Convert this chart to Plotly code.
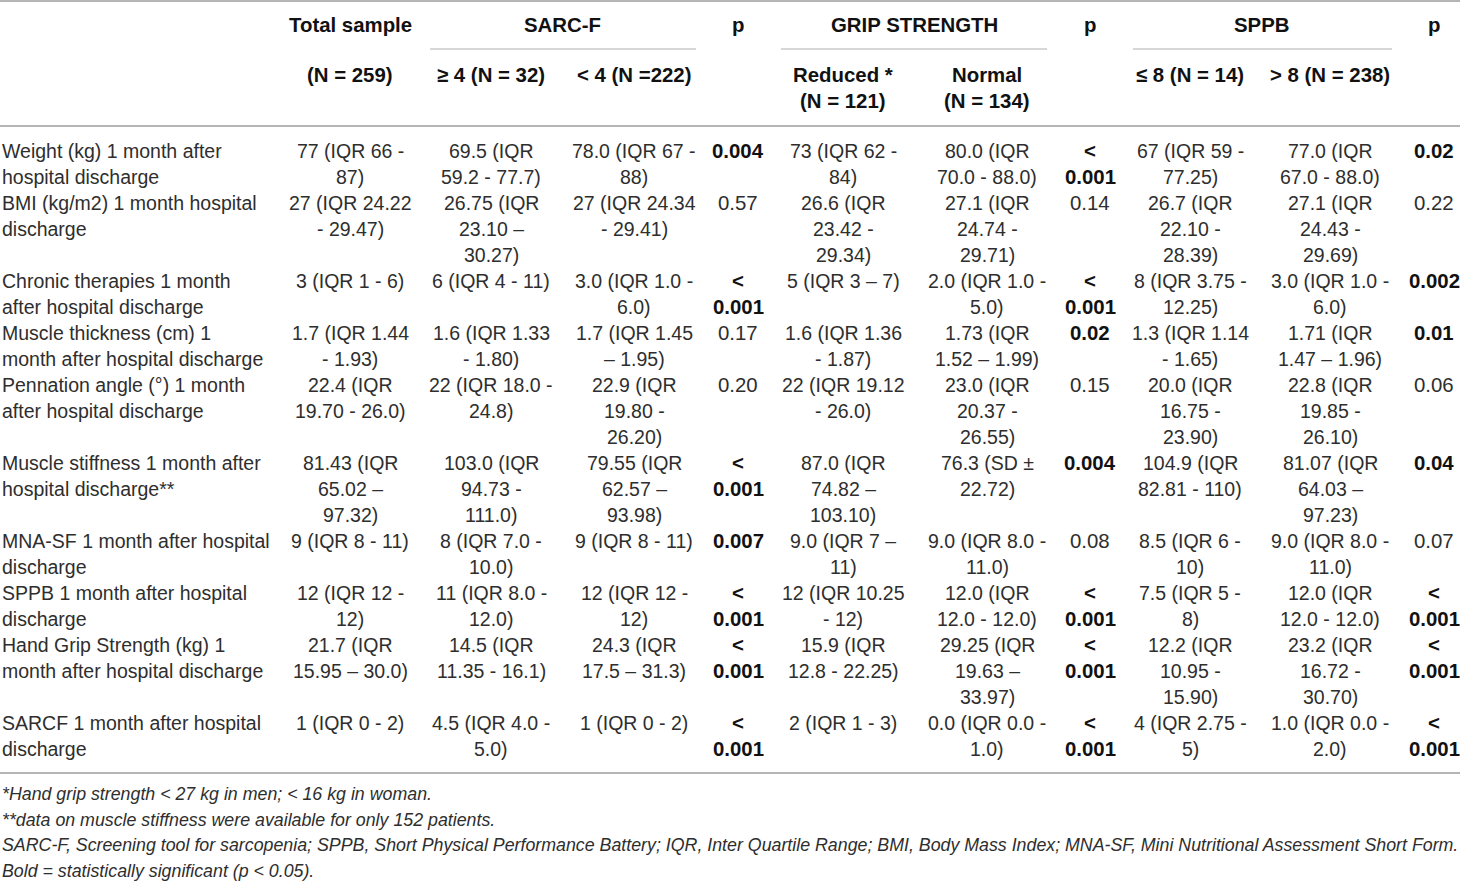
import plotly.graph_objects as go

# ---- table content (each cell already broken into its printed lines) ----
row_labels = [
    "Weight (kg) 1 month after<br>hospital discharge",
    "BMI (kg/m2) 1 month hospital<br>discharge",
    "Chronic therapies 1 month<br>after hospital discharge",
    "Muscle thickness (cm) 1<br>month after hospital discharge",
    "Pennation angle (°) 1 month<br>after hospital discharge",
    "Muscle stiffness 1 month after<br>hospital discharge**",
    "MNA-SF 1 month after hospital<br>discharge",
    "SPPB 1 month after hospital<br>discharge",
    "Hand Grip Strength (kg) 1<br>month after hospital discharge",
    "SARCF 1 month after hospital<br>discharge",
]

total_sample = [
    "77 (IQR 66 -<br>87)", "27 (IQR 24.22<br>- 29.47)", "3 (IQR 1 - 6)",
    "1.7 (IQR 1.44<br>- 1.93)", "22.4 (IQR<br>19.70 - 26.0)", "81.43 (IQR<br>65.02 –<br>97.32)",
    "9 (IQR 8 - 11)", "12 (IQR 12 -<br>12)", "21.7 (IQR<br>15.95 – 30.0)", "1 (IQR 0 - 2)",
]
sarcf_ge4 = [
    "69.5 (IQR<br>59.2 - 77.7)", "26.75 (IQR<br>23.10 –<br>30.27)", "6 (IQR 4 - 11)",
    "1.6 (IQR 1.33<br>- 1.80)", "22 (IQR 18.0 -<br>24.8)", "103.0 (IQR<br>94.73 -<br>111.0)",
    "8 (IQR 7.0 -<br>10.0)", "11 (IQR 8.0 -<br>12.0)", "14.5 (IQR<br>11.35 - 16.1)", "4.5 (IQR 4.0 -<br>5.0)",
]
sarcf_lt4 = [
    "78.0 (IQR 67 -<br>88)", "27 (IQR 24.34<br>- 29.41)", "3.0 (IQR 1.0 -<br>6.0)",
    "1.7 (IQR 1.45<br>– 1.95)", "22.9 (IQR<br>19.80 -<br>26.20)", "79.55 (IQR<br>62.57 –<br>93.98)",
    "9 (IQR 8 - 11)", "12 (IQR 12 -<br>12)", "24.3 (IQR<br>17.5 – 31.3)", "1 (IQR 0 - 2)",
]
p_sarcf = ["0.004", "0.57", "<0.001", "0.17", "0.20", "<0.001", "0.007", "<0.001", "<0.001", "<0.001"]

grip_reduced = [
    "73 (IQR 62 -<br>84)", "26.6 (IQR<br>23.42 -<br>29.34)", "5 (IQR 3 – 7)",
    "1.6 (IQR 1.36<br>- 1.87)", "22 (IQR 19.12<br>- 26.0)", "87.0 (IQR<br>74.82 –<br>103.10)",
    "9.0 (IQR 7 –<br>11)", "12 (IQR 10.25<br>- 12)", "15.9 (IQR<br>12.8 - 22.25)", "2 (IQR 1 - 3)",
]
grip_normal = [
    "80.0 (IQR<br>70.0 - 88.0)", "27.1 (IQR<br>24.74 -<br>29.71)", "2.0 (IQR 1.0 -<br>5.0)",
    "1.73 (IQR<br>1.52 – 1.99)", "23.0 (IQR<br>20.37 -<br>26.55)", "76.3 (SD ±<br>22.72)",
    "9.0 (IQR 8.0 -<br>11.0)", "12.0 (IQR<br>12.0 - 12.0)", "29.25 (IQR<br>19.63 –<br>33.97)", "0.0 (IQR 0.0 -<br>1.0)",
]
p_grip = ["<0.001", "0.14", "<0.001", "0.02", "0.15", "0.004", "0.08", "<0.001", "<0.001", "<0.001"]

sppb_le8 = [
    "67 (IQR 59 -<br>77.25)", "26.7 (IQR<br>22.10 -<br>28.39)", "8 (IQR 3.75 -<br>12.25)",
    "1.3 (IQR 1.14<br>- 1.65)", "20.0 (IQR<br>16.75 -<br>23.90)", "104.9 (IQR<br>82.81 - 110)",
    "8.5 (IQR 6 -<br>10)", "7.5 (IQR 5 -<br>8)", "12.2 (IQR<br>10.95 -<br>15.90)", "4 (IQR 2.75 -<br>5)",
]
sppb_gt8 = [
    "77.0 (IQR<br>67.0 - 88.0)", "27.1 (IQR<br>24.43 -<br>29.69)", "3.0 (IQR 1.0 -<br>6.0)",
    "1.71 (IQR<br>1.47 – 1.96)", "22.8 (IQR<br>19.85 -<br>26.10)", "81.07 (IQR<br>64.03 –<br>97.23)",
    "9.0 (IQR 8.0 -<br>11.0)", "12.0 (IQR<br>12.0 - 12.0)", "23.2 (IQR<br>16.72 -<br>30.70)", "1.0 (IQR 0.0 -<br>2.0)",
]
p_sppb = ["0.02", "0.22", "0.002", "0.01", "0.06", "0.04", "0.07", "<0.001", "<0.001", "<0.001"]

group_headers = ["SARC-F", "GRIP STRENGTH", "SPPB"]
column_headers = [
    "(N = 259)", "≥ 4 (N = 32)", "< 4 (N =222)", "",
    "Reduced *<br>(N = 121)", "Normal<br>(N = 134)", "",
    "≤ 8 (N = 14)", "> 8 (N = 238)", "",
]

footnotes = [
    "*Hand grip strength < 27 kg in men; < 16 kg in woman.",
    "**data on muscle stiffness were available for only 152 patients.",
    "SARC-F, Screening tool for sarcopenia; SPPB, Short Physical Performance Battery; IQR, "
    "Inter Quartile Range; BMI, Body Mass Index; MNA-SF, Mini Nutritional Assessment Short Form.",
    "Bold = statistically significant (p < 0.05).",
]

# ---- layout (pixel positions on the page) ----
W, H = 1460, 882
col_x = [350, 491, 634, 738, 843, 987, 1090, 1190, 1330, 1434]
group_x = [562, 914, 1262]
group_rule = [(430, 696), (781, 1047), (1133, 1392)]
head_y1, head_y2 = 25, 75
body_y0, line_h = 151, 26
foot_y0, foot_h = 794, 25.7
TEXT = "#2e2e2e"
RULE = "#9c9c9c"
FONT = "Liberation Sans, Arial, sans-serif"
FS_HEAD = 20.4
FS_BODY = 19.5


def esc(s):
    return s.replace("<br>", "\n").replace("<", "&lt;").replace(">", "&gt;").replace("\n", "<br>")


def p_text(p):
    bold = p.startswith("<") or float(p) < 0.05
    txt = "&lt;<br>" + p[1:] if p.startswith("<") else p
    return txt, bold


columns = [total_sample, sarcf_ge4, sarcf_lt4, None, grip_reduced, grip_normal, None,
           sppb_le8, sppb_gt8, None]
p_cols = {3: p_sarcf, 6: p_grip, 9: p_sppb}

fig = go.Figure()
ann = []


def put(x, y, text, bold=False, anchor="center", size=FS_BODY, italic=False, color=TEXT):
    ann.append(dict(
        x=x, y=y, xref="x", yref="y", text=text, showarrow=False,
        xanchor=anchor, yanchor="middle", align=anchor if anchor != "center" else "center",
        font=dict(family=FONT, size=size, color="#111" if bold else color,
                  weight="bold" if bold else "normal",
                  style="italic" if italic else "normal"),
    ))


# header
put(col_x[0], head_y1, "Total sample", bold=True, size=FS_HEAD)
for gx, g in zip(group_x, group_headers):
    put(gx, head_y1, g, bold=True, size=FS_HEAD)
for i in (3, 6, 9):
    put(col_x[i], head_y1, "p", bold=True, size=FS_HEAD)
for cx, h in zip(col_x, column_headers):
    for k, line in enumerate(esc(h).split("<br>")):
        if line:
            put(cx, head_y2 + k * line_h, line, bold=True, size=FS_HEAD)

# body: each printed line sits on a fixed text grid
start = 0
for r, label in enumerate(row_labels):
    cells = [label] + [c[r] for c in columns if c is not None]
    n_lines = max(len(c.split("<br>")) for c in cells)
    for k, line in enumerate(esc(label).split("<br>")):
        put(0, body_y0 + (start + k) * line_h, line, anchor="left")
    for ci, cx in enumerate(col_x):
        if ci in p_cols:
            txt, bold = p_text(p_cols[ci][r])
            size = FS_HEAD
        else:
            txt, bold, size = esc(columns[ci][r]), False, FS_BODY
        for k, line in enumerate(txt.split("<br>")):
            put(cx, body_y0 + (start + k) * line_h, line, bold=bold, size=size)
    start += n_lines

body_end = body_y0 + (start - 1) * line_h

# footnotes
for k, f in enumerate(footnotes):
    put(0, foot_y0 + k * foot_h, esc(f), anchor="left", size=17.8, italic=True)

shapes = [
    dict(type="line", xref="x", yref="y", x0=0, x1=W, y0=1, y1=1, line=dict(color=RULE, width=1.5)),
    dict(type="line", xref="x", yref="y", x0=0, x1=W, y0=126, y1=126, line=dict(color=RULE, width=1.5)),
    dict(type="line", xref="x", yref="y", x0=0, x1=W, y0=body_end + 24, y1=body_end + 24,
         line=dict(color=RULE, width=1.5)),
]
for a, b in group_rule:
    shapes.append(dict(type="line", xref="x", yref="y", x0=a, x1=b, y0=49, y1=49,
                       line=dict(color="#b0b0b0", width=1.2)))

fig.update_layout(
    width=W, height=H,
    margin=dict(l=0, r=0, t=0, b=0),
    paper_bgcolor="white", plot_bgcolor="white",
    xaxis=dict(range=[0, W], visible=False, fixedrange=True),
    yaxis=dict(range=[H, 0], visible=False, fixedrange=True),
    annotations=ann,
    shapes=shapes,
    showlegend=False,
)

# drop the browser's default 8px body margin so the table sits flush like the original
fig.write_html("out.html", config={"displayModeBar": False},
               post_script="document.body.style.margin='0px';")
